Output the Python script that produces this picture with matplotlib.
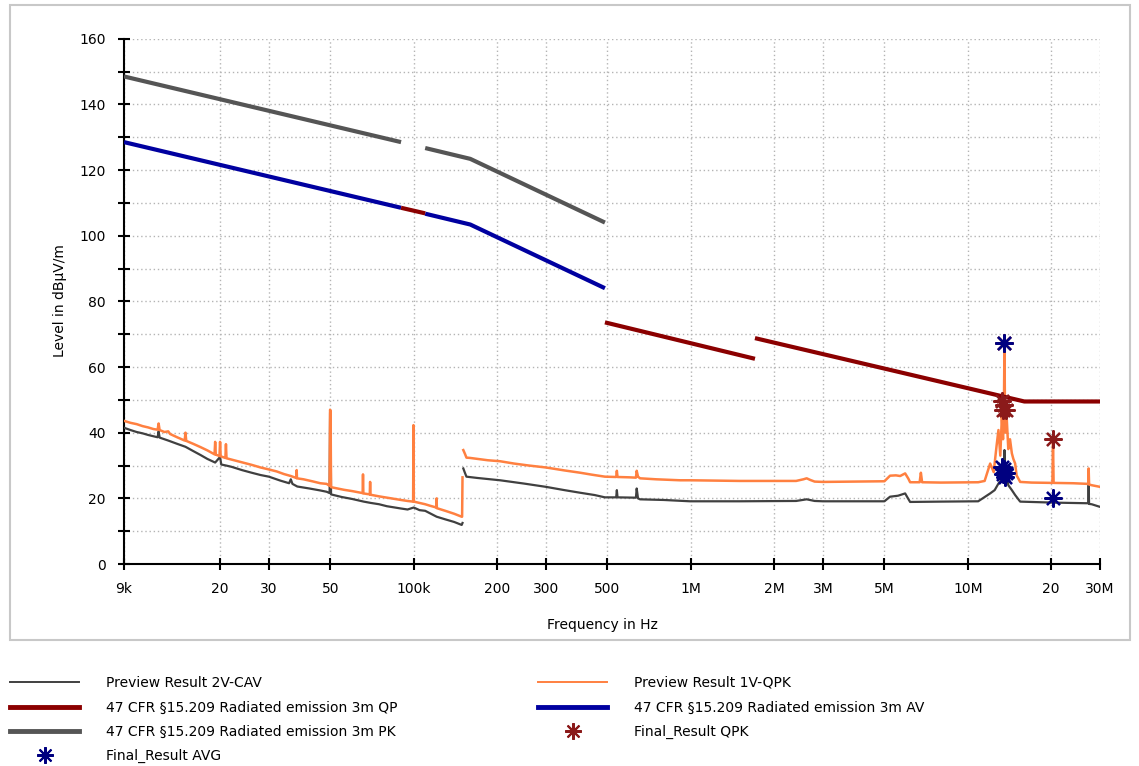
import numpy as np
import matplotlib
matplotlib.use("Agg")
import matplotlib.pyplot as plt
from matplotlib.lines import Line2D
from matplotlib.patches import Rectangle

plt.rcParams['font.family'] = ['DejaVu Sans']

# ---- limit lines (freq in Hz, level in dBuV/m) ----
pk_f1 = [9e3, 90e3]
pk_v1 = [148.5, 128.5]
pk_f2 = [110e3, 160e3, 490e3]
pk_v2 = [126.7, 123.4, 104.0]

av_f1 = [9e3, 90e3]
av_v1 = [128.5, 108.5]
av_f2 = [110e3, 160e3, 490e3]
av_v2 = [106.7, 103.4, 84.0]

qp_f1 = [90e3, 110e3]
qp_v1 = [108.5, 106.8]
qp_f2 = [490e3, 1.705e6]
qp_v2 = [73.6, 62.5]
qp_f3 = [1.705e6, 16e6, 30e6]
qp_v3 = [68.8, 49.5, 49.5]

# ---- preview QPK (orange), freq in kHz ----
qpk_f1 = [9, 9.5, 10, 10.5, 11, 11.5, 11.9, 12.0, 12.1, 12.6, 13.0, 13.2, 14, 14.9, 15.0, 15.1,
          16, 17, 18, 19.1, 19.2, 19.3, 19.9, 20.0, 20.1, 20.9, 21.0, 21.1, 22, 24, 26, 28, 30,
          32, 34, 36, 37.7, 37.8, 37.9, 40, 43, 46, 48.5, 49.7, 49.9, 50.1, 50.3, 53, 56, 60,
          65.4, 65.6, 65.8, 69.4, 69.6, 69.8, 75, 80, 85, 90, 95, 99.5, 99.8, 100.1, 105, 110,
          115, 120.8, 121, 121.2, 130, 140, 149, 149.5, 150]
qpk_v1 = [43.6, 43.0, 42.6, 42.0, 41.6, 41.1, 40.9, 42.8, 40.8, 40.2, 40.4, 39.6, 38.6, 37.6, 40.0, 37.5,
          36.6, 35.6, 34.6, 33.4, 37.2, 33.3, 32.9, 37.2, 32.8, 32.3, 36.5, 32.2, 31.8, 31.0, 30.2, 29.4, 28.8,
          28.2, 27.4, 26.8, 26.2, 28.6, 26.1, 25.8, 25.2, 24.6, 24.4, 23.8, 47.0, 46.5, 23.4, 23.0, 22.6, 22.2,
          21.6, 27.3, 21.5, 21.2, 25.0, 21.1, 20.6, 20.2, 19.8, 19.5, 19.2, 19.0, 42.3, 19.0, 18.6, 18.2,
          17.7, 17.2, 20.0, 17.0, 16.2, 15.3, 14.4, 14.4, 26.4]
qpk_f2 = [151, 153, 155, 160, 170, 185, 205, 230, 260, 300, 350, 399, 440, 490, 530, 538, 541, 544,
          600, 634, 638, 645, 656, 750, 915, 1000, 1500, 2400, 2550, 2620, 2700, 2800, 3000, 4000,
          5000, 5240, 5500, 5700, 5940, 6100, 6190, 6700, 6770, 6840, 8000, 10900, 11500, 12040,
          12400, 12700, 12900, 13100, 13270, 13400, 13500, 13560, 13620, 13700, 13830, 14000,
          14200, 14420, 14600, 14820, 15000, 15450, 17000, 20200, 20300, 20400, 24000, 27200,
          27300, 27400, 28000, 30000]
qpk_v2 = [34.7, 33.6, 32.4, 32.3, 32.0, 31.6, 31.3, 30.6, 30.0, 29.4, 28.5, 27.8, 27.2, 26.6, 26.5, 26.5, 28.4, 26.5,
          26.4, 26.3, 28.4, 26.6, 26.1, 25.8, 25.5, 25.5, 25.3, 25.3, 25.8, 26.1, 25.6, 25.1, 25.0, 25.1,
          25.2, 26.9, 27.0, 26.8, 27.6, 26.0, 24.9, 24.9, 27.8, 24.9, 24.8, 24.9, 25.3, 30.6,
          28.0, 36.0, 40.8, 33.0, 44.8, 38.0, 48.0, 66.9, 47.0, 40.0, 43.8, 35.0,
          38.0, 33.7, 32.0, 30.6, 27.0, 25.0, 24.8, 24.7, 38.2, 24.7, 24.6, 24.4,
          29.1, 24.2, 24.0, 23.5]

# ---- preview CAV (dark gray), freq in kHz ----
cav_f1 = [9, 9.5, 10, 10.5, 11, 11.9, 12.0, 12.1, 13, 14, 15, 16, 17, 18, 19.2, 20.0, 20.2, 21, 22,
          24, 26, 28, 30, 33, 35.5, 36, 36.5, 38, 42, 46, 48.5, 49.7, 49.9, 50.1, 50.3, 55, 60, 66,
          70, 75, 80, 90, 95, 100, 105, 110, 121, 130, 140, 149, 150]
cav_v1 = [41.5, 40.8, 40.2, 39.8, 39.3, 38.6, 40.4, 38.5, 37.6, 36.6, 35.7, 34.4, 33.2, 32.0, 30.9, 32.6, 30.3, 30.0, 29.6,
          28.6, 27.8, 27.1, 26.6, 25.4, 24.6, 25.8, 24.4, 23.6, 23.0, 22.4, 22.0, 21.6, 46.2, 45.5, 21.2, 20.4, 19.8, 19.0,
          18.6, 18.2, 17.6, 16.9, 16.6, 17.2, 16.4, 16.2, 14.4, 13.6, 12.8, 11.9, 12.5]
cav_f2 = [151, 153, 155, 170, 205, 250, 300, 350, 399, 450, 490, 538, 541, 544, 634, 638, 645, 656,
          800, 994, 1500, 2400, 2620, 2800, 3000, 5000, 5240, 5600, 5940, 6100, 6190, 8000, 10900,
          12040, 12500, 12900, 13300, 13500, 13560, 13620, 13830, 14000, 14420, 14820, 15450,
          20300, 27200, 27300, 27400, 28000, 30000]
cav_v2 = [29.1, 27.8, 26.6, 26.2, 25.5, 24.5, 23.5, 22.5, 21.7, 21.0, 20.3, 20.3, 22.5, 20.3, 20.2, 23.0, 20.0, 19.7,
          19.5, 19.1, 19.1, 19.2, 19.7, 19.2, 19.1, 19.1, 20.5, 20.8, 21.5, 19.8, 18.9, 19.0, 19.1,
          21.5, 22.5, 24.5, 26.0, 28.0, 34.7, 27.0, 26.6, 24.0, 22.5, 21.0, 19.0,
          18.7, 18.5, 24.0, 18.3, 18.2, 17.4]

# ---- final results ----
fqpk_f = [13.56e6, 13.3e6, 13.45e6, 13.56e6, 13.68e6, 20.3e6]
fqpk_v = [67.3, 49.5, 47.0, 48.5, 47.0, 38.2]
favg_f = [13.56e6, 13.3e6, 13.45e6, 13.56e6, 13.68e6, 13.6e6, 20.3e6]
favg_v = [67.3, 29.5, 27.5, 29.0, 27.8, 26.5, 20.0]

xticks = [9e3, 2e4, 3e4, 5e4, 1e5, 2e5, 3e5, 5e5, 1e6, 2e6, 3e6, 5e6, 1e7, 2e7, 3e7]
xlabels = ['9k', '20', '30', '50', '100k', '200', '300', '500', '1M', '2M', '3M', '5M', '10M', '20', '30M']

c_cav = '#404040'
c_qpk = '#ff8040'
c_qp = '#8b0000'
c_av = '#0000a0'
c_pk = '#555555'
c_fqpk = '#8b1a1a'
c_favg = '#000080'
star = (8, 2, 0)

W, H = 1139, 766
fig = plt.figure(figsize=(W / 100, H / 100), dpi=100)
ax = fig.add_axes([124 / W, 1 - 564 / H, 976 / W, 525.3 / H])

# preview traces, kHz -> Hz, NaN break at 150 kHz
def khz(a):
    return np.array(a) * 1e3

ax.plot(np.r_[khz(cav_f1), np.nan, khz(cav_f2)], np.r_[cav_v1, np.nan, cav_v2], color=c_cav, lw=1.6, zorder=3)
ax.plot(np.r_[khz(qpk_f1), np.nan, khz(qpk_f2)], np.r_[qpk_v1, np.nan, qpk_v2], color=c_qpk, lw=1.8, zorder=4)

# limits
ax.plot(pk_f1, pk_v1, color=c_pk, lw=3, solid_capstyle='butt', zorder=5)
ax.plot(pk_f2, pk_v2, color=c_pk, lw=3, solid_capstyle='butt', zorder=5)
ax.plot(av_f1, av_v1, color=c_av, lw=3, solid_capstyle='butt', zorder=5)
ax.plot(av_f2, av_v2, color=c_av, lw=3, solid_capstyle='butt', zorder=5)
for f, v in [(qp_f1, qp_v1), (qp_f2, qp_v2), (qp_f3, qp_v3)]:
    ax.plot(f, v, color=c_qp, lw=3, solid_capstyle='butt', zorder=6)

# final results
ax.plot(fqpk_f, fqpk_v, ls='none', marker=star, ms=13, mew=1.6, color=c_fqpk, zorder=7)
ax.plot(favg_f, favg_v, ls='none', marker=star, ms=13, mew=1.6, color=c_favg, zorder=8)

ax.set_xscale('log')
ax.set_xlim(9e3, 3e7)
ax.set_ylim(0, 160)
ax.set_xticks(xticks)
ax.set_xticklabels(xlabels)
ax.xaxis.set_minor_locator(matplotlib.ticker.NullLocator())
yt = np.arange(0, 161, 10)
ax.set_yticks(yt)
ax.set_yticklabels([str(v) if v % 20 == 0 else '' for v in yt])
ax.tick_params(direction='inout', length=8.6, width=1.5, labelsize=10, pad=9)

ax.grid(True, color='#b4b4b4', linestyle=(0, (1, 2)), linewidth=1)
ax.set_axisbelow(True)
for s in ['top', 'right']:
    ax.spines[s].set_visible(False)
for s in ['left', 'bottom']:
    ax.spines[s].set_linewidth(1.5)

fig.text(60 / W, 1 - 301 / H, 'Level in dBµV/m', rotation=90, ha='center', va='center', fontsize=10)
fig.text(602 / W, 1 - 625 / H, 'Frequency in Hz', ha='center', va='center', fontsize=10)

fig.patches.append(Rectangle((10 / W, 1 - 640 / H), 1120 / W, 635 / H, transform=fig.transFigure,
                             fill=False, edgecolor='#c8c8c8', lw=1.5))

# legend in two columns
h_cav = Line2D([], [], color=c_cav, lw=1.4)
h_qpk = Line2D([], [], color=c_qpk, lw=1.4)
h_qp = Line2D([], [], color=c_qp, lw=3.5)
h_av = Line2D([], [], color=c_av, lw=3.5)
h_pk = Line2D([], [], color=c_pk, lw=3.5)
h_fqpk = Line2D([], [], ls='none', marker=star, ms=12, mew=1.5, color=c_fqpk)
h_favg = Line2D([], [], ls='none', marker=star, ms=12, mew=1.5, color=c_favg)

leg_kw = dict(frameon=False, fontsize=10, handlelength=5.0, handletextpad=1.9,
              labelspacing=0.75, borderpad=0, borderaxespad=0, loc='upper left')
leg1 = fig.legend([h_cav, h_qp, h_pk, h_favg],
                  ['Preview Result 2V-CAV', '47 CFR §15.209 Radiated emission 3m QP',
                   '47 CFR §15.209 Radiated emission 3m PK', 'Final_Result AVG'],
                  bbox_to_anchor=(10 / W, 1 - 676 / H), **leg_kw)
leg2 = fig.legend([h_qpk, h_av, h_fqpk],
                  ['Preview Result 1V-QPK', '47 CFR §15.209 Radiated emission 3m AV', 'Final_Result QPK'],
                  bbox_to_anchor=(538 / W, 1 - 676 / H), **leg_kw)

fig.savefig('out.png', dpi=100)
